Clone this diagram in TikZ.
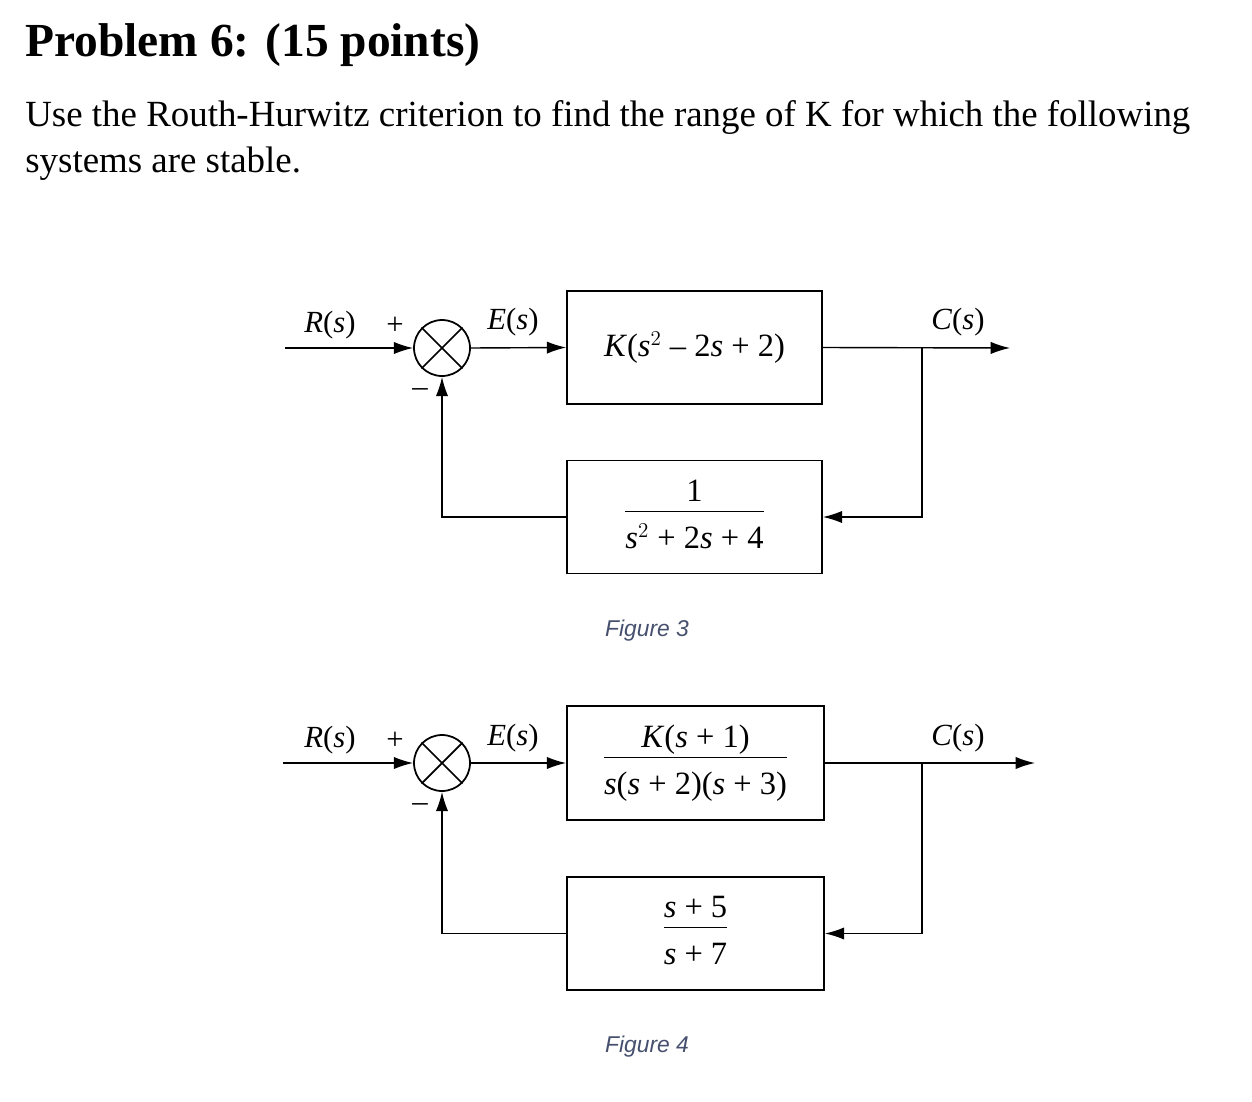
\documentclass[tikz,border=0pt]{standalone}
\usepackage{fontspec}
\setmainfont{Liberation Serif}
\newfontfamily\figfont{Liberation Sans}
\usetikzlibrary{arrows.meta}
\definecolor{figblue}{RGB}{70,80,110}
\tikzset{
  blk/.style={draw,line width=1pt,minimum width=5.1cm,minimum height=2.26cm,inner sep=0pt},
  sumc/.style={draw,circle,line width=1pt,minimum size=1.12cm,inner sep=0pt},
  sig/.style={line width=0.8pt,-{Latex[length=11pt,width=7pt]}},
  lab/.style={font=\fontsize{17.5}{20}\selectfont},
  expr/.style={font=\fontsize{18.5}{22}\selectfont},
  figlab/.style={font=\figfont\itshape\fontsize{13}{15}\selectfont,text=figblue}
}
\newcommand{\crossin}[1]{\draw[line width=1pt] (#1.north east)--(#1.south west) (#1.north west)--(#1.south east);}
\begin{document}
\begin{tikzpicture}[x=0.02cm,y=-0.02cm]
\useasboundingbox (0,0) rectangle (1252,1102);
\node[anchor=west,font=\bfseries\fontsize{27}{31}\selectfont,inner sep=0pt] (title) at (25,45) {Problem 6: (15 points)};
\node[anchor=north west,align=left,font=\fontsize{21}{26}\selectfont,inner sep=0pt] (body) at (25,100) {Use the Routh-Hurwitz criterion to find the range of K for which the following\\systems are stable.};

% Figure 3
\coordinate (in3) at (285,348);
\node[sumc] (s3) at (442,348) {}; \crossin{s3}
\node[blk] (g3) at (694.5,347.5) {};
\node[expr] at (g3) {\textit{K}(\textit{s}$^2$ -- 2\textit{s} + 2)};
\node[blk] (h3) at (694.5,517) {};
\node[expr] at (h3) {\begin{tabular}{@{}c@{}}1\\[-1pt]\hline\rule{0pt}{21pt}\textit{s}$^2$ + 2\textit{s} + 4\end{tabular}};
\coordinate (out3) at (1010,348);
\coordinate (br3) at (922,348);
\draw[sig] (in3) -- (s3.west);
\draw[sig] (s3.east) -- (g3.west);
\draw[sig] (g3.east) -- (out3);
\draw[sig] (br3) |- (h3.east);
\draw[sig] (h3.west) -| (s3.south);
\node[lab] at (330,325) {\textit{R}(\textit{s})};
\node[lab] at (395,326) {+};
\node[lab] at (420,393) {--};
\node[lab] at (513,322) {\textit{E}(\textit{s})};
\node[lab] at (958,322) {\textit{C}(\textit{s})};
\node[figlab] at (647,631) {Figure 3};

% Figure 4
\coordinate (in4) at (283,763);
\node[sumc] (s4) at (442,763) {}; \crossin{s4}
\node[blk,minimum width=5.14cm,minimum height=2.28cm] (g4) at (695.5,763) {};
\node[expr] at (g4) {\begin{tabular}{@{}c@{}}\textit{K}(\textit{s} + 1)\\[-1pt]\hline\rule{0pt}{21pt}\textit{s}(\textit{s} + 2)(\textit{s} + 3)\end{tabular}};
\node[blk,minimum width=5.14cm,minimum height=2.26cm] (h4) at (695.5,933.5) {};
\node[expr] at (h4) {\begin{tabular}{@{}c@{}}\textit{s} + 5\\[-1pt]\hline\rule{0pt}{21pt}\textit{s} + 7\end{tabular}};
\coordinate (out4) at (1035,763);
\coordinate (br4) at (922,763);
\draw[sig] (in4) -- (s4.west);
\draw[sig] (s4.east) -- (g4.west);
\draw[sig] (g4.east) -- (out4);
\draw[sig] (br4) |- (h4.east);
\draw[sig] (h4.west) -| (s4.south);
\node[lab] at (330,740) {\textit{R}(\textit{s})};
\node[lab] at (395,741) {+};
\node[lab] at (420,808) {--};
\node[lab] at (513,738) {\textit{E}(\textit{s})};
\node[lab] at (958,738) {\textit{C}(\textit{s})};
\node[figlab] at (647,1047) {Figure 4};
\end{tikzpicture}
\end{document}
